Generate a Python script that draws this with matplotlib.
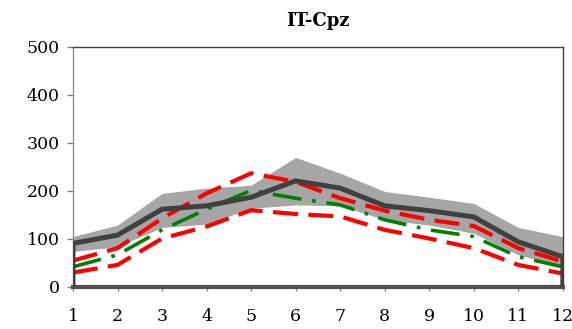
import numpy as np
import matplotlib
matplotlib.use('Agg')
import matplotlib.pyplot as plt

plt.rcParams['font.family'] = ['DejaVu Serif']

# Months
months = np.arange(1, 13)

# Shaded range around the mean
band_upper = [105, 129, 195, 206, 212, 270, 237, 199, 187, 174, 124, 105]
band_lower = [74, 84, 124, 131, 164, 171, 169, 140, 129, 112, 67, 42]

# Mean curve
mean_vals = [91, 108, 162, 169, 187, 221, 206, 169, 159, 146, 94, 63]

# Red dashed envelope
red_upper = [55, 81, 143, 195, 237, 219, 185, 159, 140, 127, 81, 53]
red_lower = [30, 46, 101, 126, 160, 152, 147, 119, 101, 81, 46, 28]

# Green dash-dot curve
green_vals = [42, 67, 119, 162, 201, 185, 171, 140, 119, 105, 63, 42]

fig = plt.figure(figsize=(5.72, 3.29), dpi=100)
ax = fig.add_axes([0.1276, 0.1277, 0.8564, 0.7295])

ax.fill_between(months, band_lower, band_upper, color='#a6a6a6', lw=0, zorder=1)

# mean line drops to zero at both ends
mx = np.concatenate([[months[0]], months, [months[-1]]])
my = np.concatenate([[0], mean_vals, [0]])
ax.plot(mx, my, color='#404040', lw=3.6, solid_joinstyle='miter', zorder=4)

ax.plot(months, red_upper, color='#ff0000', lw=3.0, dashes=(6, 2.5), zorder=3)
ax.plot(months, red_lower, color='#ff0000', lw=3.0, dashes=(6, 2.5), zorder=3)
ax.plot(months, green_vals, color='#008000', lw=2.6, dashes=(8, 3, 1, 3), zorder=2)

ax.set_xlim(1, 12)
ax.set_ylim(0, 500)
ax.set_xticks(months)
ax.set_yticks([0, 100, 200, 300, 400, 500])
ax.tick_params(axis='both', labelsize=12.5, colors='#808080', labelcolor='black',
               width=1)
ax.tick_params(axis='y', length=4.5, pad=5)
ax.tick_params(axis='x', length=3, pad=12)

for side in ['top', 'right']:
    ax.spines[side].set_color('#404040')
    ax.spines[side].set_linewidth(1.0)
ax.spines['left'].set_color('#909090')
ax.spines['left'].set_linewidth(1.0)
ax.spines['bottom'].set_color('#505050')
ax.spines['bottom'].set_linewidth(3.0)

ax.set_title('IT-Cpz', fontsize=13, fontweight='bold', pad=15)

fig.savefig('out.png', dpi=100)
